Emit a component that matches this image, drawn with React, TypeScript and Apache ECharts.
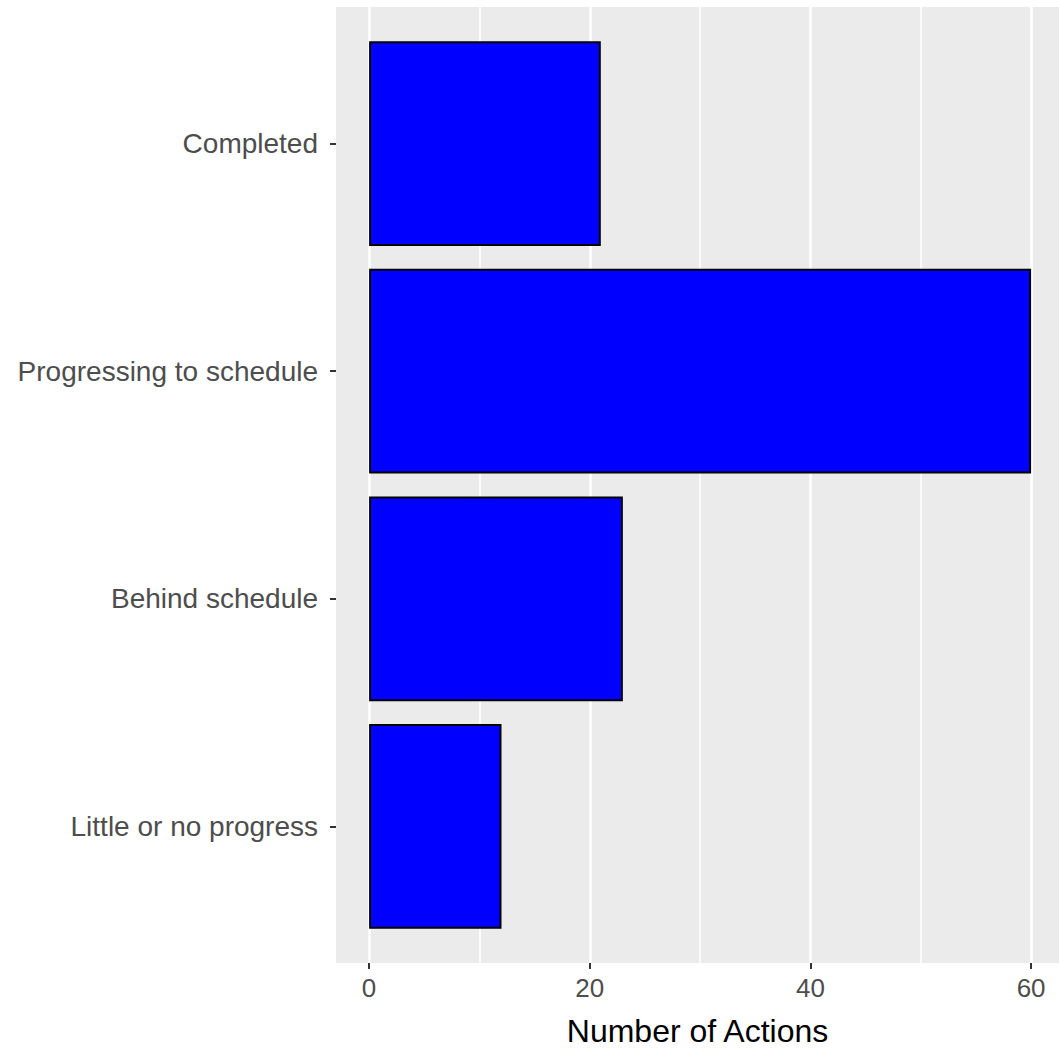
import React, { useEffect, useRef } from "react";
import * as echarts from "echarts";

const categories = ["Completed", "Progressing to schedule", "Behind schedule", "Little or no progress"];
const actionCounts = [21, 60, 23, 12];
const xTickValues = [0, 20, 40, 60];
const majorGridValues = [0, 20, 40, 60];
const minorGridValues = [10, 30, 50];
const xMin = -3;
const xMax = 62.53;
const xAxisTitle = "Number of Actions";

const FONT = "'Liberation Sans', Arial, sans-serif";

export default function App() {
  const ref = useRef<HTMLDivElement>(null);
  useEffect(() => {
    const chart = echarts.init(ref.current!, null, { renderer: "svg" });
    const panelTop = 7;
    const panelBottomGap = 89;
    const panelH = 1052 - panelTop - panelBottomGap;
    const band = panelH / (categories.length - 1 + 1.2);
    const inset = band * 0.1;
    const left = 336;
    const gridLines = [
      ...majorGridValues.map((v) => ({ xAxis: v, lineStyle: { width: 2.6 } })),
      ...minorGridValues.map((v) => ({ xAxis: v, lineStyle: { width: 1.6 } })),
    ];
    chart.setOption({
      animation: false,
      backgroundColor: "#ffffff",
      textStyle: { fontFamily: FONT },
      grid: [
        { left, right: 0, top: panelTop, bottom: panelBottomGap, show: true, backgroundColor: "#EBEBEB", borderWidth: 0 },
        { left, right: 0, top: panelTop + inset, bottom: panelBottomGap + inset, show: false },
      ],
      xAxis: [
        {
          type: "value",
          gridIndex: 0,
          min: xMin,
          max: xMax,
          axisLine: { show: false, onZero: false },
          axisTick: { show: true, customValues: xTickValues, length: 6, lineStyle: { color: "#333333", width: 2 } },
          axisLabel: { customValues: xTickValues, fontSize: 26, color: "#4D4D4D", margin: 12, fontFamily: FONT },
          splitLine: { show: false },
          name: xAxisTitle,
          nameLocation: "middle",
          nameGap: 52,
          nameTextStyle: { fontSize: 32, color: "#000000", fontFamily: FONT },
        },
        { type: "value", gridIndex: 1, min: xMin, max: xMax, show: false, axisLine: { onZero: false } },
      ],
      yAxis: [
        { type: "value", gridIndex: 0, min: 0, max: 1, show: false, splitLine: { show: false }, axisLine: { onZero: false } },
        {
          type: "category",
          gridIndex: 1,
          data: categories,
          inverse: true,
          axisLine: { show: false, onZero: false },
          axisTick: { show: true, alignWithLabel: true, length: 6, lineStyle: { color: "#333333", width: 2 } },
          axisLabel: { fontSize: 28, color: "#4D4D4D", margin: 18, fontFamily: FONT },
          splitLine: { show: false },
        },
      ],
      series: [
        {
          type: "line",
          xAxisIndex: 0,
          yAxisIndex: 0,
          data: [],
          silent: true,
          markLine: {
            silent: true,
            symbol: ["none", "none"],
            label: { show: false },
            z: 1,
            lineStyle: { color: "#ffffff", type: "solid" },
            emphasis: { disabled: true },
            data: gridLines,
          },
        },
        {
          type: "bar",
          xAxisIndex: 1,
          yAxisIndex: 1,
          data: actionCounts,
          barWidth: "90%",
          itemStyle: { color: "#0000FF", borderColor: "#000000", borderWidth: 2 },
          z: 3,
        },
      ],
    });
    return () => chart.dispose();
  }, []);
  return (
    <div
      ref={ref}
      style={{ position: "fixed", left: 0, top: 0, width: 1059, height: 1052 }}
    />
  );
}
